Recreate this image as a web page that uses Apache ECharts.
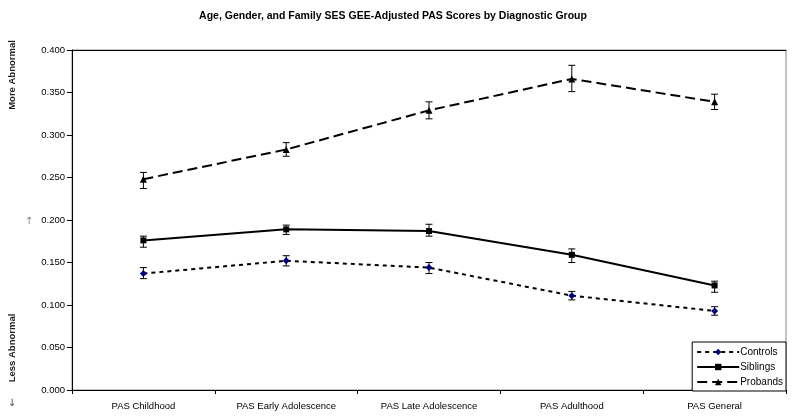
<!DOCTYPE html>
<html><head><meta charset="utf-8">
<script src="https://cdn.jsdelivr.net/npm/echarts@6/dist/echarts.min.js"></script>
<style>html,body{margin:0;padding:0;background:#fff}#c{width:796px;height:417px}</style>
</head><body><div id="c"></div>
<script>
var categories = ['PAS Childhood','PAS Early Adolescence','PAS Late Adolescence','PAS Adulthood','PAS General'];
var controls = [0.137, 0.152, 0.144, 0.111, 0.093];
var controlsLow = [0.131, 0.146, 0.137, 0.106, 0.088];
var controlsHigh = [0.144, 0.158, 0.150, 0.116, 0.098];
var siblings = [0.176, 0.189, 0.187, 0.159, 0.123];
var siblingsLow = [0.168, 0.183, 0.181, 0.150, 0.115];
var siblingsHigh = [0.181, 0.194, 0.195, 0.166, 0.128];
var probands = [0.248, 0.283, 0.329, 0.366, 0.339];
var probandsLow = [0.237, 0.275, 0.319, 0.351, 0.330];
var probandsHigh = [0.256, 0.291, 0.339, 0.382, 0.348];
var yTicks = [0, 0.05, 0.1, 0.15, 0.2, 0.25, 0.3, 0.35, 0.4];

function errData(low, high) {
  return categories.map(function (c, i) { return [i, low[i], high[i]]; });
}
function errSeries(low, high) {
  return {
    type: 'custom', silent: true, z: 3,
    data: errData(low, high),
    renderItem: function (params, api) {
      var lo = api.coord([api.value(0), api.value(1)]);
      var hi = api.coord([api.value(0), api.value(2)]);
      var w = 3.5;
      var st = { stroke: '#000', lineWidth: 1 };
      return { type: 'group', children: [
        { type: 'line', shape: { x1: lo[0], y1: lo[1], x2: hi[0], y2: hi[1] }, style: st },
        { type: 'line', shape: { x1: lo[0]-w, y1: lo[1], x2: lo[0]+w, y2: lo[1] }, style: st },
        { type: 'line', shape: { x1: hi[0]-w, y1: hi[1], x2: hi[0]+w, y2: hi[1] }, style: st }
      ]};
    }
  };
}
var font = 'Arial, "Liberation Sans", sans-serif';
var chart = echarts.init(document.getElementById('c'));
chart.setOption({
  animation: false,
  backgroundColor: '#fff',
  title: { text: 'Age, Gender, and Family SES GEE-Adjusted PAS Scores by Diagnostic Group', left: 388, textAlign: 'center', top: 6,
    textStyle: { fontFamily: font, fontSize: 10.5, fontWeight: 'bold', color: '#000' } },
  grid: { left: 72, right: 10, top: 50, bottom: 27, show: true, borderColor: '#888', borderWidth: 1 },
  legend: {
    orient: 'vertical', right: 10, bottom: 26, padding: [5, 3, 4, 4], itemGap: 5,
    backgroundColor: '#fff', borderColor: '#000', borderWidth: 1, borderRadius: 0,
    itemWidth: 42, itemHeight: 8,
    textStyle: { fontFamily: font, fontSize: 10, color: '#000', padding: [0, 0, 0, -4] },
    data: ['Controls', 'Siblings', 'Probands']
  },
  xAxis: [{
    type: 'category', data: categories, boundaryGap: true,
    axisLine: { lineStyle: { color: '#000', width: 1 } },
    axisTick: { show: true, length: 4, lineStyle: { color: '#000' } },
    axisLabel: { fontFamily: font, fontSize: 9.5, color: '#000', margin: 11 },
    splitLine: { show: false }
  }, {
    type: 'category', data: categories, position: 'top',
    axisLine: { lineStyle: { color: '#000', width: 1 } },
    axisTick: { show: false }, axisLabel: { show: false }
  }],
  yAxis: {
    type: 'value', min: 0, max: 0.4, interval: 0.05,
    axisLine: { show: true, lineStyle: { color: '#000', width: 1 } },
    axisTick: { show: true, length: 5, lineStyle: { color: '#000' } },
    axisLabel: { fontFamily: font, fontSize: 9.5, color: '#000', margin: 7,
      formatter: function (v) { return v.toFixed(3); } },
    splitLine: { show: false }
  },
  graphic: [
    { type: 'text', x: 12, y: 75, rotation: Math.PI / 2, style: { text: 'More Abnormal', font: 'bold 9.5px Arial, "Liberation Sans", sans-serif', fill: '#222', align: 'center', verticalAlign: 'middle' } },
    { type: 'text', x: 12, y: 348, rotation: Math.PI / 2, style: { text: 'Less Abnormal', font: 'bold 9.5px Arial, "Liberation Sans", sans-serif', fill: '#222', align: 'center', verticalAlign: 'middle' } },
    { type: 'text', x: 29, y: 221, style: { text: '\u2191', font: '10px "DejaVu Sans", sans-serif', fill: '#888', align: 'center', verticalAlign: 'middle' } },
    { type: 'text', x: 12, y: 403, style: { text: '\u2193', font: '10px "DejaVu Sans", sans-serif', fill: '#444', align: 'center', verticalAlign: 'middle' } }
  ],
  series: [
    errSeries(controlsLow, controlsHigh),
    errSeries(siblingsLow, siblingsHigh),
    errSeries(probandsLow, probandsHigh),
    { name: 'Controls', type: 'line', data: controls, z: 5,
      symbol: 'diamond', symbolSize: 7, showSymbol: true,
      itemStyle: { color: '#000080', borderWidth: 0 },
      lineStyle: { color: '#000', width: 2, type: [4, 4] } },
    { name: 'Siblings', type: 'line', data: siblings, z: 5,
      symbol: 'rect', symbolSize: 6,
      itemStyle: { color: '#000', borderWidth: 0 },
      lineStyle: { color: '#000', width: 2, type: 'solid' } },
    { name: 'Probands', type: 'line', data: probands, z: 5,
      symbol: 'triangle', symbolSize: 7,
      itemStyle: { color: '#000', borderWidth: 0 },
      lineStyle: { color: '#000', width: 2, type: [10, 5] } }
  ]
});
</script></body></html>
